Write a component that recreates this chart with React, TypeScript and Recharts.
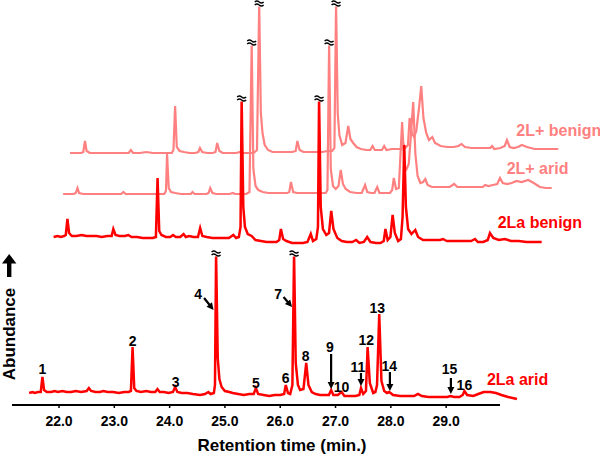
import React from 'react';
import { ComposedChart, Line, Scatter, XAxis, YAxis, Customized } from 'recharts';

const FONT = '"Liberation Sans", Arial, Helvetica, sans-serif';
const RED = '#ff0000';
const PINK = '#ff8080';

// ---------- data ----------
const tickValues = [22, 23, 24, 25, 26, 27, 28, 29];

// [retention time (min), abundance]
const trace2LaArid: [number, number][] = [
  [21.46, 0], [21.52, 1], [21.56, 0], [21.62, 1], [21.67, 1], [21.70, 16], [21.73, 3], [21.78, 1], [21.86, 1],
  [21.92, 2], [21.98, 1], [22.06, 2], [22.14, 1], [22.22, 1], [22.30, 2], [22.40, 1], [22.50, 2], [22.54, 5],
  [22.58, 2], [22.66, 1], [22.74, 1], [22.80, 2], [22.88, 1], [22.98, 1], [23.08, 0], [23.18, 1], [23.26, 1],
  [23.30, 2], [23.33, 46], [23.36, 5], [23.40, 2], [23.48, 1], [23.58, 2], [23.66, 1], [23.74, 1], [23.78, 4],
  [23.82, 1], [23.90, 1], [23.98, 0], [24.06, 1], [24.10, 6], [24.14, 1], [24.22, 0], [24.32, 0], [24.42, -1],
  [24.55, -2], [24.64, -1], [24.70, 1], [24.74, -1], [24.80, 0], [24.82, 8], [24.84, 139], [24.87, 35],
  [24.90, 14], [24.94, 6], [25.00, 2], [25.08, 1], [25.14, 0], [25.24, -1], [25.34, -2], [25.44, -1],
  [25.52, -1], [25.56, 5], [25.60, -1], [25.70, -2], [25.80, -3], [25.90, -2], [26.00, -2], [26.07, -1],
  [26.10, 8], [26.14, 0], [26.18, -1], [26.22, 8], [26.25, 139], [26.28, 30], [26.32, 8], [26.36, 3],
  [26.42, 4], [26.47, 30], [26.51, 8], [26.57, 1], [26.64, -1], [26.72, -2], [26.80, -2], [26.88, -2],
  [26.92, 3], [26.96, -2], [27.04, -2], [27.11, 1], [27.16, -3], [27.26, -3], [27.36, -3], [27.43, -2],
  [27.46, 5], [27.50, -1], [27.55, 2], [27.58, 46], [27.62, 10], [27.68, 0], [27.72, 1], [27.75, 8],
  [27.79, 79], [27.83, 12], [27.88, 2], [27.93, 0], [27.97, 1], [28.04, -2], [28.17, -3], [28.30, -3],
  [28.42, -3], [28.49, -1], [28.56, -3], [28.68, -4], [28.80, -4], [28.92, -4], [29.02, -4], [29.08, -3],
  [29.14, -4], [29.24, -4], [29.30, -2], [29.33, 2], [29.38, -2], [29.49, -3], [29.58, -1], [29.68, 1],
  [29.80, 1], [29.90, 0], [30.00, -2], [30.12, -4], [30.28, -6],
];

const trace2LaBenign: [number, number][] = [
  [21.45, 0], [21.52, 1], [21.58, 0], [21.64, 1], [21.67, 2], [21.70, 18], [21.73, 4], [21.78, 1], [21.86, 1],
  [21.96, 2], [22.04, 1], [22.14, 1], [22.23, 1], [22.32, 0], [22.42, 1], [22.50, 1], [22.53, 8], [22.57, 2],
  [22.64, 1], [22.74, 1], [22.80, 2], [22.86, 0], [22.96, 0], [23.06, -1], [23.16, -1], [23.24, -1], [23.30, 0],
  [23.33, 59], [23.36, 6], [23.40, 2], [23.48, 0], [23.56, 0], [23.61, 2], [23.66, 0], [23.74, 0], [23.80, 3],
  [23.84, 0], [23.90, 1], [23.98, 0], [24.06, 0], [24.10, 9], [24.14, 1], [24.22, 0], [24.32, -1], [24.42, -1],
  [24.52, -1], [24.62, -1], [24.70, 2], [24.75, -1], [24.80, 0], [24.83, 10], [24.85, 138], [24.88, 30],
  [24.91, 10], [24.96, 3], [25.03, 1], [25.10, -3], [25.20, -4], [25.30, -5], [25.40, -5], [25.48, -5],
  [25.53, -3], [25.56, 8], [25.60, -2], [25.66, -4], [25.76, -6], [25.86, -6], [25.96, -6], [26.04, -5],
  [26.10, 3], [26.14, -4], [26.20, -2], [26.23, 10], [26.25, 138], [26.28, 30], [26.32, 8], [26.38, 2],
  [26.43, 4], [26.47, 26], [26.51, 8], [26.58, -1], [26.66, -4], [26.75, -5], [26.85, -5], [26.92, -3],
  [26.98, -6], [27.06, -5], [27.12, 0], [27.18, -5], [27.28, -6], [27.36, -6], [27.42, -4], [27.45, 8],
  [27.49, -3], [27.54, 0], [27.58, 22], [27.62, 4], [27.68, -4], [27.73, -2], [27.76, 20], [27.79, 92],
  [27.82, 30], [27.86, 8], [27.92, 3], [27.99, 7], [28.04, 0], [28.13, -3], [28.24, -3], [28.36, -3],
  [28.44, -3], [28.49, -2], [28.56, -4], [28.70, -4], [28.86, -4], [29.00, -4], [29.07, -2], [29.12, -5],
  [29.22, -5], [29.30, -3], [29.34, 4], [29.40, -1], [29.50, -3], [29.61, -2], [29.72, -4], [29.86, -4],
  [30.00, -5], [30.14, -5], [30.275, -5],
];

const trace2LpArid: [number, number][] = [
  [21.45, 0], [21.54, 0], [21.64, 0], [21.68, 1], [21.71, 6], [21.74, 1], [21.82, 0], [21.94, 0], [22.06, 0],
  [22.18, 0], [22.30, 0], [22.42, 0], [22.50, 0], [22.54, 2], [22.58, 0], [22.70, 0], [22.82, 0], [22.94, 0],
  [23.06, 0], [23.18, 0], [23.28, 0], [23.31, 3], [23.33, 40], [23.36, 6], [23.40, 2], [23.48, 1], [23.58, 0],
  [23.68, 0], [23.76, 0], [23.79, 2], [23.83, 0], [23.94, 0], [24.04, 0], [24.08, 1], [24.11, 6], [24.15, 1],
  [24.22, 0], [24.34, 0], [24.46, 0], [24.52, 1], [24.56, 0], [24.66, 0], [24.76, 0], [24.82, 2], [24.86, 151],
  [24.89, 25], [24.93, 8], [24.98, 4], [25.06, 2], [25.16, 1], [25.28, 1], [25.40, 1], [25.50, 1], [25.54, 2],
  [25.57, 12], [25.61, 2], [25.68, 1], [25.80, 1], [25.92, 1], [26.04, 1], [26.14, 1], [26.20, 1], [26.23, 4],
  [26.26, 151], [26.29, 25], [26.33, 8], [26.38, 5], [26.43, 8], [26.47, 24], [26.51, 10], [26.56, 5],
  [26.64, 2], [26.76, 1], [26.85, 1], [26.91, 9], [26.95, 2], [27.02, 1], [27.08, 1], [27.13, 7], [27.17, 1],
  [27.26, 1], [27.36, 1], [27.40, 4], [27.43, 16], [27.47, 5], [27.52, 6], [27.58, 72], [27.62, 28],
  [27.66, 25], [27.70, 30], [27.74, 60], [27.78, 92], [27.82, 40], [27.86, 18], [27.91, 11], [27.96, 12],
  [28.00, 15], [28.04, 9], [28.12, 7], [28.22, 7], [28.34, 7], [28.44, 7], [28.52, 10], [28.58, 7],
  [28.70, 7], [28.84, 7], [28.96, 7], [29.04, 7], [29.08, 9], [29.14, 8], [29.22, 9], [29.30, 10],
  [29.35, 16], [29.40, 11], [29.48, 10], [29.56, 11], [29.65, 13], [29.74, 12], [29.86, 14], [29.96, 11],
  [30.07, 7], [30.18, 6], [30.284, 6],
];

const trace2LpBenign: [number, number][] = [
  [21.44, 0], [21.54, 0], [21.64, 0], [21.68, 1], [21.71, 12], [21.74, 2], [21.80, 0], [21.92, 0], [22.04, 0],
  [22.16, 0], [22.28, 0], [22.40, 0], [22.50, 0], [22.54, 3], [22.58, 0], [22.70, 0], [22.82, 1], [22.94, 0],
  [23.06, 0], [23.18, 0], [23.28, 0], [23.31, 3], [23.34, 47], [23.37, 6], [23.42, 2], [23.50, 1], [23.60, 0],
  [23.70, 0], [23.76, 1], [23.79, 5], [23.83, 1], [23.92, 0], [24.02, 0], [24.07, 1], [24.10, 10], [24.14, 2],
  [24.20, 0], [24.32, 0], [24.44, 0], [24.52, 1], [24.56, 0], [24.66, 0], [24.76, 0], [24.82, 3], [24.86, 149],
  [24.89, 40], [24.92, 20], [24.96, 8], [25.02, 3], [25.10, 1], [25.22, 1], [25.34, 1], [25.46, 1], [25.52, 2],
  [25.55, 12], [25.59, 3], [25.66, 1], [25.78, 1], [25.90, 1], [26.00, 1], [26.10, 2], [26.18, 2], [26.22, 5],
  [26.25, 149], [26.28, 40], [26.31, 18], [26.36, 8], [26.42, 10], [26.47, 27], [26.51, 14], [26.56, 10],
  [26.62, 6], [26.70, 4], [26.80, 3], [26.87, 3], [26.91, 7], [26.95, 3], [27.04, 3], [27.08, 3], [27.12, 7],
  [27.16, 3], [27.26, 4], [27.36, 4], [27.43, 4], [27.46, 10], [27.50, 5], [27.55, 8], [27.58, 35], [27.62, 20],
  [27.66, 16], [27.70, 22], [27.75, 45], [27.79, 67], [27.83, 35], [27.88, 20], [27.93, 13], [27.99, 16],
  [28.04, 10], [28.14, 7], [28.26, 6], [28.38, 6], [28.46, 7], [28.52, 9], [28.58, 6], [28.70, 5], [28.84, 5],
  [28.96, 5], [29.04, 5], [29.07, 7], [29.11, 4], [29.22, 5], [29.30, 7], [29.34, 13], [29.39, 6], [29.46, 5],
  [29.54, 6], [29.61, 8], [29.70, 6], [29.84, 4], [29.98, 4], [30.12, 4], [30.268, 4],
];

// truncated (off-scale) peaks: [time, cut height]
const breaks2LaArid: [number, number][] = [[24.84, 139], [26.25, 139]];
const breaks2LaBenign: [number, number][] = [[24.85, 138], [26.25, 138]];
const breaks2LpArid: [number, number][] = [[24.86, 151], [26.26, 151]];
const breaks2LpBenign: [number, number][] = [[24.86, 149], [26.25, 149]];

const peakNumbers = ['1', '2', '3', '4', '5', '6', '7', '8', '9', '10', '11', '12', '13', '14', '15', '16'];
const peakTimes = [21.70, 23.33, 24.10, 24.84, 25.56, 26.10, 26.25, 26.47, 26.92, 27.11, 27.46, 27.58, 27.79, 27.97, 29.08, 29.33];
const peakHeights = [16, 46, 6, 139, 5, 8, 139, 30, 3, 1, 5, 46, 79, 1, -3, 2];

const seriesNames = ['2La arid', '2La benign', '2L+ arid', '2L+ benign'];

// ---------- styling ----------
const peakLabelStyle: Record<string, { dx: number; dy: number; arrow?: [number, number, number, number] }> = {
  '1': { dx: 0, dy: -8.5 },
  '2': { dx: 0, dy: -6.5 },
  '3': { dx: 0.5, dy: -5 },
  '4': { dx: -18, dy: 39.5, arrow: [-12, 44, -2.5, 56] },
  '5': { dx: 0, dy: -5 },
  '6': { dx: 0, dy: -7 },
  '7': { dx: -16, dy: 40, arrow: [-10.5, 43, -2, 53] },
  '8': { dx: -0.5, dy: -7 },
  '9': { dx: -1.3, dy: -43.5, arrow: [0, -36, 0, -1] },
  '10': { dx: 0, dy: -5.5 },
  '11': { dx: -3, dy: -21, arrow: [0, -15, 0, -2] },
  '12': { dx: -1.3, dy: -6.7 },
  '13': { dx: -2, dy: -6 },
  '14': { dx: 0, dy: -26, arrow: [0.7, -20, 0.7, -1] },
  '15': { dx: -1, dy: -27, arrow: [0.3, -18, 0.3, -2] },
  '16': { dx: 0, dy: -6 },
};

const seriesLabelOffset = [
  { dx: -30, dy: -20 },
  { dx: -44, dy: -20 },
  { dx: -45, dy: -20 },
  { dx: -42, dy: -19 },
];

const toPts = (arr: [number, number][]) => arr.map(([t, v]) => ({ t, v }));

const arrowShape = (x1: number, y1: number, x2: number, y2: number, key: string) => {
  const len = Math.hypot(x2 - x1, y2 - y1);
  const ux = (x2 - x1) / len;
  const uy = (y2 - y1) / len;
  const hl = 7;
  const hw = 3.5;
  const bx = x2 - ux * hl;
  const by = y2 - uy * hl;
  const px = -uy;
  const py = ux;
  return (
    <g key={key}>
      <line x1={x1} y1={y1} x2={bx + ux} y2={by + uy} stroke="#000" strokeWidth={2.2} />
      <polygon points={`${x2},${y2} ${bx + px * hw},${by + py * hw} ${bx - px * hw},${by - py * hw}`} fill="#000" />
    </g>
  );
};

const PeakLabel = (props: any) => {
  const { cx, cy, payload } = props;
  if (cx == null || cy == null) return <g />;
  const s = peakLabelStyle[payload.label];
  return (
    <g>
      <text
        x={cx + s.dx}
        y={cy + s.dy}
        textAnchor="middle"
        dominantBaseline="central"
        fontFamily={FONT}
        fontWeight="bold"
        fontSize={14}
        fill="#000"
      >
        {payload.label}
      </text>
      {s.arrow ? arrowShape(cx + s.arrow[0], cy + s.arrow[1], cx + s.arrow[2], cy + s.arrow[3], 'a') : null}
    </g>
  );
};

const BreakMark = (props: any) => {
  const { cx, cy } = props;
  if (cx == null || cy == null) return <g />;
  const y0 = cy - 1;
  return (
    <g>
      <rect x={cx - 5} y={y0 - 3.5} width={10} height={7} fill="#fff" />
      <path d={`M${cx - 4.5},${y0 - 1} q2.25,-2 4.5,0 t4.5,0`} stroke="#000" strokeWidth={1.3} fill="none" />
      <path d={`M${cx - 4.5},${y0 + 2} q2.25,-2 4.5,0 t4.5,0`} stroke="#000" strokeWidth={1.3} fill="none" />
    </g>
  );
};

const makeSeriesLabel = (idx: number, color: string) => (props: any) => {
  const { cx, cy } = props;
  if (cx == null || cy == null) return <g />;
  const o = seriesLabelOffset[idx];
  return (
    <text
      x={cx + o.dx}
      y={cy + o.dy}
      textAnchor="start"
      dominantBaseline="central"
      fontFamily={FONT}
      fontWeight="bold"
      fontSize={16}
      fill={color}
    >
      {seriesNames[idx]}
    </text>
  );
};

const Titles = () => (
  <g fontFamily={FONT} fontWeight="bold" fill="#000">
    <text x={282} y={445} textAnchor="middle" dominantBaseline="central" fontSize={17}>
      Retention time (min.)
    </text>
    <text transform="translate(9.5,334) rotate(-90)" textAnchor="middle" dominantBaseline="central" fontSize={17}>
      Abundance
    </text>
    <polygon points="9.2,254 2,263.5 16.4,263.5" fill="#000" />
    <rect x={7} y={263} width={4.4} height={14} fill="#000" />
  </g>
);

export default function App() {
  const t0 = toPts(trace2LaArid);
  const t1 = toPts(trace2LaBenign);
  const t2 = toPts(trace2LpArid);
  const t3 = toPts(trace2LpBenign);
  const peaks = peakNumbers.map((label, i) => ({ t: peakTimes[i], v: peakHeights[i], label }));
  const last = (a: { t: number; v: number }[]) => [a[a.length - 1]];

  // horizontal staggering of the stacked traces (px) converted into axis domains
  const pxPerMin = 568 / (31.42 - 21.15);
  const dom = (shiftPx: number): [number, number] => [21.15 - shiftPx / pxPerMin, 31.42 - shiftPx / pxPerMin];

  return (
    <div style={{ position: 'absolute', left: 0, top: 0, width: 600, height: 456, fontFamily: FONT, background: '#fff' }}>
      <ComposedChart width={600} height={456} margin={{ top: 0, right: 20, bottom: 0, left: 12 }}>
        <XAxis
          xAxisId="a"
          type="number"
          dataKey="t"
          domain={dom(0)}
          ticks={tickValues}
          interval={0}
          tickFormatter={(v: number) => v.toFixed(1)}
          height={51}
          tickSize={3}
          tickMargin={8}
          axisLine={{ stroke: '#000', strokeWidth: 2, strokeDasharray: '488 300' }}
          tickLine={{ stroke: '#000', strokeWidth: 1.5 }}
          tick={{ fontSize: 14, fontWeight: 'bold', fill: '#000', fontFamily: FONT }}
        />
        <XAxis xAxisId="b" type="number" dataKey="t" domain={dom(25)} hide />
        <XAxis xAxisId="c" type="number" dataKey="t" domain={dom(34.5)} hide />
        <XAxis xAxisId="d" type="number" dataKey="t" domain={dom(42)} hide />
        <YAxis yAxisId="a" type="number" domain={[-12, 393]} hide />
        <YAxis yAxisId="b" type="number" domain={[-168, 237]} hide />
        <YAxis yAxisId="c" type="number" domain={[-211, 194]} hide />
        <YAxis yAxisId="d" type="number" domain={[-252, 153]} hide />

        <Line data={t3} xAxisId="d" yAxisId="d" dataKey="v" type="linear" stroke={PINK} strokeWidth={2.2} dot={false} isAnimationActive={false} />
        <Line data={t2} xAxisId="c" yAxisId="c" dataKey="v" type="linear" stroke={PINK} strokeWidth={2.2} dot={false} isAnimationActive={false} />
        <Line data={t1} xAxisId="b" yAxisId="b" dataKey="v" type="linear" stroke={RED} strokeWidth={2.5} dot={false} isAnimationActive={false} />
        <Line data={t0} xAxisId="a" yAxisId="a" dataKey="v" type="linear" stroke={RED} strokeWidth={2.5} dot={false} isAnimationActive={false} />

        <Scatter data={toPts(breaks2LpBenign)} xAxisId="d" yAxisId="d" dataKey="v" shape={BreakMark} isAnimationActive={false} />
        <Scatter data={toPts(breaks2LpArid)} xAxisId="c" yAxisId="c" dataKey="v" shape={BreakMark} isAnimationActive={false} />
        <Scatter data={toPts(breaks2LaBenign)} xAxisId="b" yAxisId="b" dataKey="v" shape={BreakMark} isAnimationActive={false} />
        <Scatter data={toPts(breaks2LaArid)} xAxisId="a" yAxisId="a" dataKey="v" shape={BreakMark} isAnimationActive={false} />

        <Scatter data={peaks} xAxisId="a" yAxisId="a" dataKey="v" shape={PeakLabel} isAnimationActive={false} />

        <Scatter data={last(t0)} xAxisId="a" yAxisId="a" dataKey="v" shape={makeSeriesLabel(0, RED)} isAnimationActive={false} />
        <Scatter data={last(t1)} xAxisId="b" yAxisId="b" dataKey="v" shape={makeSeriesLabel(1, RED)} isAnimationActive={false} />
        <Scatter data={last(t2)} xAxisId="c" yAxisId="c" dataKey="v" shape={makeSeriesLabel(2, PINK)} isAnimationActive={false} />
        <Scatter data={last(t3)} xAxisId="d" yAxisId="d" dataKey="v" shape={makeSeriesLabel(3, PINK)} isAnimationActive={false} />

        <Customized component={Titles} />
      </ComposedChart>
    </div>
  );
}
